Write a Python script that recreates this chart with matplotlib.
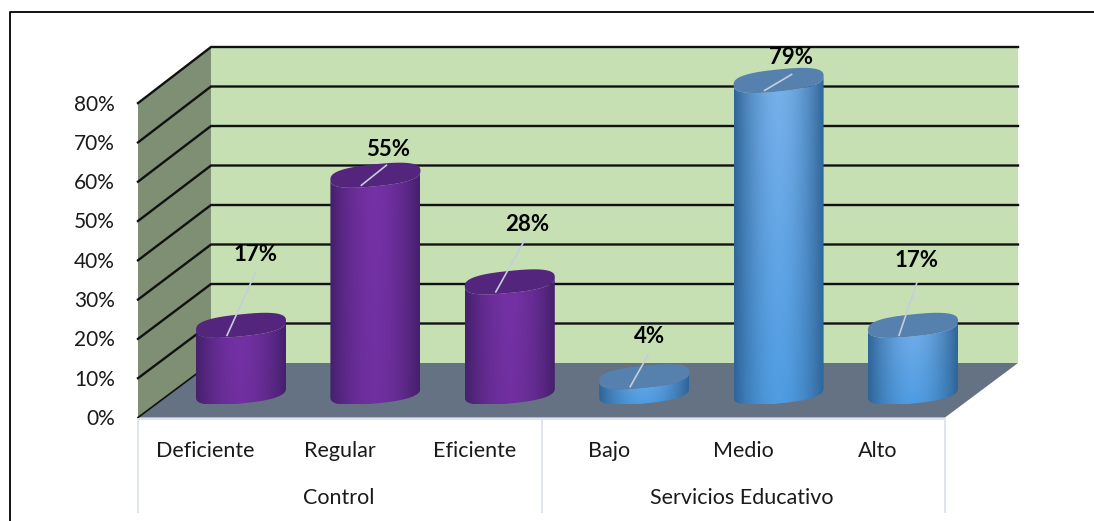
import numpy as np
import matplotlib
matplotlib.use('Agg')
import matplotlib.pyplot as plt
from matplotlib.patches import Polygon, PathPatch
from matplotlib.path import Path

# data
categories = ['Deficiente', 'Regular', 'Eficiente', 'Bajo', 'Medio', 'Alto']
groups = ['Control', 'Servicios Educativo']
values = [17, 55, 28, 4, 79, 17]
value_labels = ['17%', '55%', '28%', '4%', '79%', '17%']
y_ticks = [0, 10, 20, 30, 40, 50, 60, 70, 80]

# layout in pixels
W, H = 1094, 521
FRONT_X, BACK_X, RIGHT_X = 138, 211, 1018
FRONT_0, BACK_0 = 417.5, 363
FRONT_SCALE, BACK_SCALE = 3.93, 3.95
PX_PER_UNIT = 3.95
BAR_BASE_Y = 392.5
BAR_A, BAR_B, BAR_TILT = 45, 11, -4.5
FONT = 'Lato'

# label offset from the top of each bar, leader start and end offset
label_offsets = [(15, -71), (13, -26), (17, -57), (5, -40), (12, -23), (4, -65)]
leader_top = [(15, -54), (11, -10), (15, -42), (4, -22), (13, -6), (4, -43)]
leader_end = [(-14, 10), (-14, 10), (-14, 10), (-14, 10), (-14, 10), (-14, 10)]

purple = {'edge': '#45206c', 'mid_top': '#7531a6', 'mid_low': '#7030a0', 'top': '#54257c'}
blue = {'edge': '#2f6598', 'mid_top': '#79b1ea', 'mid_low': '#4f9ce2', 'top': '#5680ae'}


def rgb(c):
    return np.array(matplotlib.colors.to_rgb(c))


def front_y(v):
    return FRONT_0 - v * FRONT_SCALE


def back_y(v):
    return BACK_0 - v * BACK_SCALE


def ellipse(cx, cy, t):
    # slightly squared ellipse, the tops in the picture are quite full at the ends
    c = np.sign(np.cos(t)) * np.abs(np.cos(t)) ** 0.75
    s = np.sign(np.sin(t)) * np.abs(np.sin(t)) ** 0.75
    return cx + BAR_A * c, cy + BAR_B * s + BAR_TILT * c


def draw_cylinder(ax, cx, value, colors):
    top_y = BAR_BASE_Y - value * PX_PER_UNIT
    # body outline: left side, front of the base, right side, front of the top
    t = np.linspace(np.pi, 0, 80)
    bx, by = ellipse(cx, BAR_BASE_Y, t)
    tx, ty = ellipse(cx, top_y, t[::-1])
    verts = np.column_stack([np.r_[bx, tx], np.r_[by, ty]])
    clip = PathPatch(Path(np.vstack([verts, verts[0]])), fc='none', ec='none')
    ax.add_patch(clip)

    # shading across and down the body
    nx, ny = 90, 60
    u = np.abs(np.linspace(-1, 1, nx)) ** 1.8
    v = np.linspace(0, 1, ny)
    img = np.zeros((ny, nx, 3))
    for j in range(ny):
        mid = rgb(colors['mid_top']) * (1 - v[j]) + rgb(colors['mid_low']) * v[j]
        for i in range(nx):
            img[j, i] = mid * (1 - u[i]) + rgb(colors['edge']) * u[i]
    im = ax.imshow(img, extent=(cx - BAR_A, cx + BAR_A, BAR_BASE_Y + BAR_B + 1, top_y - BAR_B - 6),
                   aspect='auto', zorder=3, interpolation='bilinear')
    im.set_clip_path(clip)

    t = np.linspace(0, 2 * np.pi, 120)
    ex, ey = ellipse(cx, top_y, t)
    ax.add_patch(Polygon(np.column_stack([ex, ey]), fc=colors['top'], ec='none', zorder=4))
    return top_y


fig = plt.figure(figsize=(W / 100, H / 100), dpi=100)
ax = fig.add_axes([0, 0, 1, 1])
ax.axis('off')

top = y_ticks[-1]

# outer frame, only left and top are inside the crop
ax.plot([9.5, 9.5, W], [H, 11.5, 11.5], color='black', lw=1.3, zorder=1)

# walls and floor
ax.add_patch(Polygon([(BACK_X, back_y(0)), (RIGHT_X, back_y(0)), (RIGHT_X, back_y(top)), (BACK_X, back_y(top))],
                     fc='#c6e0b4', ec='none', zorder=1))
ax.add_patch(Polygon([(FRONT_X, front_y(0)), (BACK_X, back_y(0)), (BACK_X, back_y(top)), (FRONT_X, front_y(top))],
                     fc='#7e8f73', ec='none', zorder=1))
ax.add_patch(Polygon([(FRONT_X, front_y(0)), (BACK_X, back_y(0)), (RIGHT_X, back_y(0)),
                      (RIGHT_X - (BACK_X - FRONT_X), front_y(0))], fc='#647284', ec='none', zorder=1))

# grid lines run along the side wall and the back wall
for tick in y_ticks:
    if tick == 0:
        ax.plot([FRONT_X, BACK_X], [front_y(0), back_y(0)], color='#111111', lw=1.2, zorder=2)
    else:
        ax.plot([FRONT_X, BACK_X, RIGHT_X], [front_y(tick), back_y(tick), back_y(tick)],
                color='#111111', lw=1.7, zorder=2, solid_joinstyle='miter')
    ax.text(115, front_y(tick) + 1.5, f'{tick}%', ha='right', va='center', fontsize=15, family=FONT, color='#1a1a1a')

# category axis
floor_right = RIGHT_X - (BACK_X - FRONT_X)
axis_color = '#dfe4ef'
slot = (floor_right - FRONT_X) / len(categories)
ax.plot([FRONT_X, floor_right], [418.5, 418.5], color=axis_color, lw=1.4, zorder=2)
for k in [0, 3, 6]:
    x = FRONT_X + k * slot
    ax.plot([x, x], [418.5, 512], color=axis_color, lw=1.4, zorder=2)

for i, name in enumerate(categories):
    ax.text(FRONT_X + (i + 0.5) * slot, 451, name, ha='center', va='center', fontsize=15.5, family=FONT, color='#1a1a1a')
for g, name in enumerate(groups):
    ax.text(FRONT_X + (3 * g + 1.5) * slot - 1, 498, name, ha='center', va='center',
            fontsize=15.5, family=FONT, color='#1a1a1a')

# cylinders
for i, val in enumerate(values):
    cx = 241 + i * 134.4
    colors = purple if i < 3 else blue
    top_y = draw_cylinder(ax, cx, val, colors)
    lx, ly = label_offsets[i]
    ax.text(cx + lx, top_y + ly, value_labels[i], ha='center', va='center', fontsize=16, fontweight='bold',
            family=FONT, color='black', zorder=6)
    ax.plot([cx + leader_top[i][0], cx + leader_end[i][0]], [top_y + leader_top[i][1], top_y + leader_end[i][1]],
            color='#c6cddb', lw=1.2, zorder=5)

ax.set_xlim(0, W)
ax.set_ylim(H, 0)
fig.savefig('out.png', dpi=100)
